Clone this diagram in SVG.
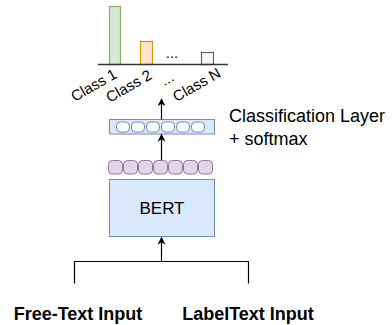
<svg xmlns="http://www.w3.org/2000/svg" width="392" height="325" viewBox="0 0 392 325">
  <defs>
    <marker id="arrow" viewBox="0 0 10 10" refX="9" refY="5" markerWidth="8" markerHeight="8" markerUnits="userSpaceOnUse" orient="auto">
      <path d="M0,0 L10,5 L0,10 L3,5 Z" fill="#000"/>
    </marker>
    <style>
      text { font-family: "Liberation Sans", Arial, sans-serif; fill: #000; }
      .lbl { font-size: 15px; }
      .big { font-size: 18px; }
      .bert { font-size: 17px; }
      .input { font-size: 18px; font-weight: bold; }
      .edge { fill: none; stroke: #000; stroke-width: 1.2; }
      .blue { fill: #dae8fc; stroke: #6c8ebf; stroke-width: 1; }
      .cell { fill: #ffffff; stroke: #6c8ebf; stroke-width: 1; }
      .tok { fill: #e1d5e7; stroke: #9673a6; stroke-width: 1; }
    </style>
  </defs>

  <!-- bar chart of class probabilities -->
  <g id="chart">
    <rect x="109.5" y="6.5" width="11" height="58" fill="#d5e8d4" stroke="#82b366" stroke-width="1.2"/>
    <rect x="140.5" y="41.5" width="12" height="23" fill="#ffe6cc" stroke="#d79b00" stroke-width="1.2"/>
    <rect x="201.5" y="52.5" width="12" height="12" fill="#f5f5f5" stroke="#666666" stroke-width="1.2"/>
    <line x1="98" y1="64.5" x2="228" y2="64.5" stroke="#333" stroke-width="1.5"/>
    <text class="lbl" x="172" y="58" text-anchor="middle">...</text>
    <text class="lbl" transform="translate(118,77) rotate(-30)" text-anchor="end">Class 1</text>
    <text class="lbl" transform="translate(153,78) rotate(-30)" text-anchor="end">Class 2</text>
    <text class="lbl" transform="translate(175,80) rotate(-30)" text-anchor="end">...</text>
    <text class="lbl" transform="translate(222,76) rotate(-30)" text-anchor="end">Class N</text>
  </g>

  <!-- classification layer -->
  <g id="classifier">
    <rect class="blue" x="109.5" y="119.5" width="105" height="14.5"/>
    <rect class="cell" x="116.5" y="122" width="13" height="10" rx="4"/>
    <rect class="cell" x="131.5" y="122" width="13" height="10" rx="4"/>
    <rect class="cell" x="146.5" y="122" width="13" height="10" rx="4"/>
    <rect class="cell" x="161.5" y="122" width="13" height="10" rx="4"/>
    <rect class="cell" x="176.5" y="122" width="13" height="10" rx="4"/>
    <rect class="cell" x="191.5" y="122" width="13" height="10" rx="4"/>
  </g>
  <g id="classifier-label">
    <text class="big" x="229" y="121.5">Classification Layer</text>
    <text class="big" x="229" y="144.5">+ softmax</text>
  </g>

  <!-- token embeddings -->
  <g id="tokens">
    <rect class="tok" x="108.5" y="160.5" width="14" height="13.5" rx="4"/>
    <rect class="tok" x="123.5" y="160.5" width="14" height="13.5" rx="4"/>
    <rect class="tok" x="138.5" y="160.5" width="14" height="13.5" rx="4"/>
    <rect class="tok" x="153.5" y="160.5" width="14" height="13.5" rx="4"/>
    <rect class="tok" x="168.5" y="160.5" width="14" height="13.5" rx="4"/>
    <rect class="tok" x="183.5" y="160.5" width="14" height="13.5" rx="4"/>
    <rect class="tok" x="198.5" y="160.5" width="14" height="13.5" rx="4"/>
  </g>

  <!-- encoder -->
  <g id="bert">
    <rect class="blue" x="109.5" y="179.5" width="105" height="57"/>
    <text class="bert" x="162" y="214" text-anchor="middle">BERT</text>
  </g>

  <!-- inputs -->
  <g id="free-text-input">
    <text class="input" x="78" y="319.5" text-anchor="middle">Free-Text Input</text>
  </g>
  <g id="labeltext-input">
    <text class="input" x="248" y="319.5" text-anchor="middle">LabelText Input</text>
  </g>

  <!-- connectors -->
  <g id="connectors">
    <polyline class="edge" points="74.5,283.5 74.5,261.5 248.5,261.5 248.5,283.5"/>
    <line class="edge" x1="161.5" y1="261.5" x2="161.5" y2="237.5" marker-end="url(#arrow)"/>
    <line class="edge" x1="161.5" y1="160" x2="161.5" y2="134.5" marker-end="url(#arrow)"/>
    <line class="edge" x1="161.5" y1="119.5" x2="161.5" y2="99" marker-end="url(#arrow)"/>
  </g>
</svg>
